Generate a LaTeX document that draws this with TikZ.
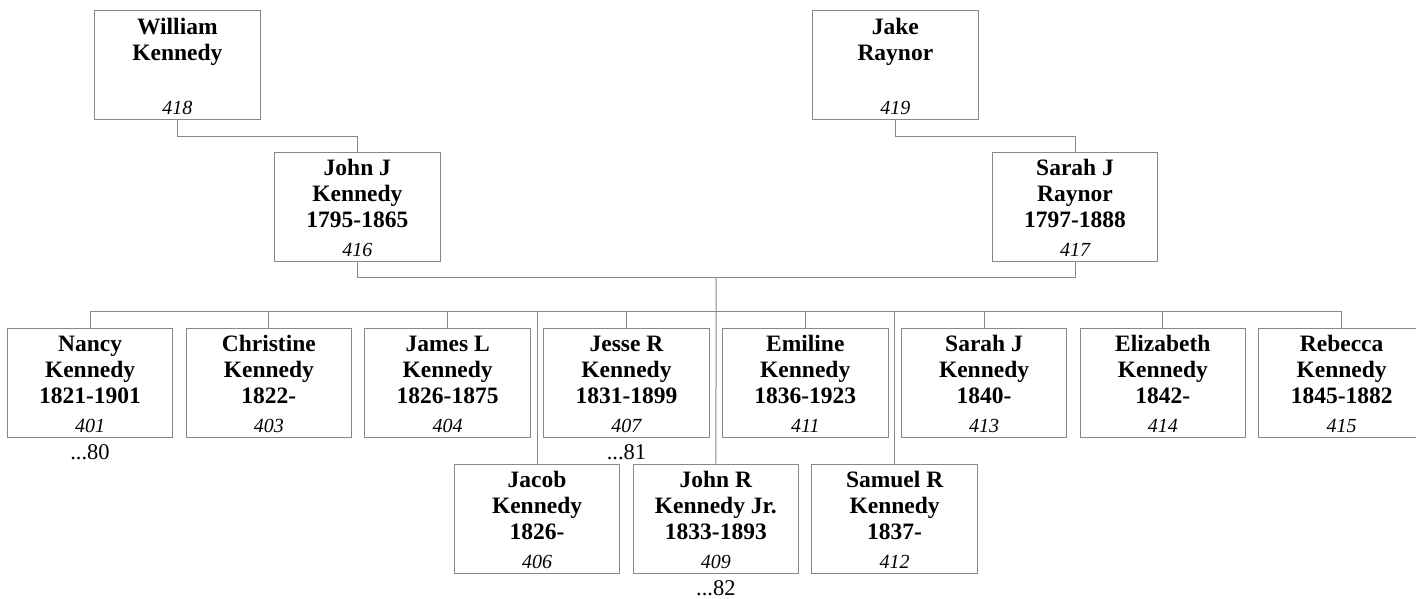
\documentclass[tikz,border=0pt]{standalone}
\usepackage{fontspec}
\setmainfont{Liberation Serif}
\usetikzlibrary{calc}
\definecolor{lc}{RGB}{136,136,136}
\newcommand\pbox[5]{%
  \node[person] (#1) at (#2,#3) {};
  \node[nm] (#1-n) at ([yshift=-5.5pt]#1.north) {\strut #4};
  \node[num] (#1-i) at ([yshift=5.6pt]#1.south) {#5};
}
\begin{document}
\begin{tikzpicture}[x=1pt,y=-1pt,
  person/.style={draw=lc, line width=1pt, minimum width=165.7pt, minimum height=109pt, inner sep=0pt, anchor=north west},
  nm/.style={anchor=north, inner sep=0pt, align=center, font=\bfseries\fontsize{23.5}{26}\selectfont},
  num/.style={anchor=base, inner sep=0pt, font=\itshape\fontsize{20}{24}\selectfont},
  ref/.style={anchor=base, inner sep=0pt, font=\fontsize{22.5}{26}\selectfont},
  link/.style={draw=lc, line width=1pt}]
\useasboundingbox (0,0) rectangle (1416,599);
\clip (0,0) rectangle (1416,599);
\fill[white] (0,0) rectangle (1416,599);
% grandparents and parents
\pbox{william}{94}{10.3}{William\\Kennedy}{418}
\pbox{jake}{812}{10.3}{Jake\\Raynor}{419}
\pbox{jj}{274}{152}{John J\\Kennedy\\1795-1865}{416}
\pbox{sj}{991.7}{152}{Sarah J\\Raynor\\1797-1888}{417}
% children, upper row
\pbox{nancy}{6.7}{328}{Nancy\\Kennedy\\1821-1901}{401}
\pbox{christine}{185.5}{328}{Christine\\Kennedy\\1822-}{403}
\pbox{james}{364.3}{328}{James L\\Kennedy\\1826-1875}{404}
\pbox{jesse}{543.1}{328}{Jesse R\\Kennedy\\1831-1899}{407}
\pbox{emiline}{721.9}{328}{Emiline\\Kennedy\\1836-1923}{411}
\pbox{sarah}{900.7}{328}{Sarah J\\Kennedy\\1840-}{413}
\pbox{elizabeth}{1079.5}{328}{Elizabeth\\Kennedy\\1842-}{414}
\pbox{rebecca}{1258.3}{328}{Rebecca\\Kennedy\\1845-1882}{415}
% children, lower row
\pbox{jacob}{453.7}{463.7}{Jacob\\Kennedy\\1826-}{406}
\pbox{johnr}{632.5}{463.7}{John R\\Kennedy Jr.\\1833-1893}{409}
\pbox{samuel}{811.3}{463.7}{Samuel R\\Kennedy\\1837-}{412}
% continuation references
\node[ref] (r80) at ([yshift=-21.7pt]nancy.south) {...80};
\node[ref] (r81) at ([yshift=-21.7pt]jesse.south) {...81};
\node[ref] (r82) at ([yshift=-21.7pt]johnr.south) {...82};
% connectors
\draw[link] (william.south) -- ++(0,16) -| (jj.north);
\draw[link] (jake.south) -- ++(0,16) -| (sj.north);
\draw[link] (jj.south) -- ++(0,15.7) -| (sj.south);
\coordinate (fam) at ($(jj.south)!0.5!(sj.south)+(0,15.7)$);
\coordinate (bus) at (0,311.7);
\draw[link] (fam) -- (johnr.north);
\draw[link] (nancy.north) -- (nancy.north |- bus) -| (rebecca.north);
\foreach \c in {christine,james,jesse,emiline,sarah,elizabeth,jacob,samuel}
  \draw[link] (\c.north) -- (\c.north |- bus);
\end{tikzpicture}
\end{document}
